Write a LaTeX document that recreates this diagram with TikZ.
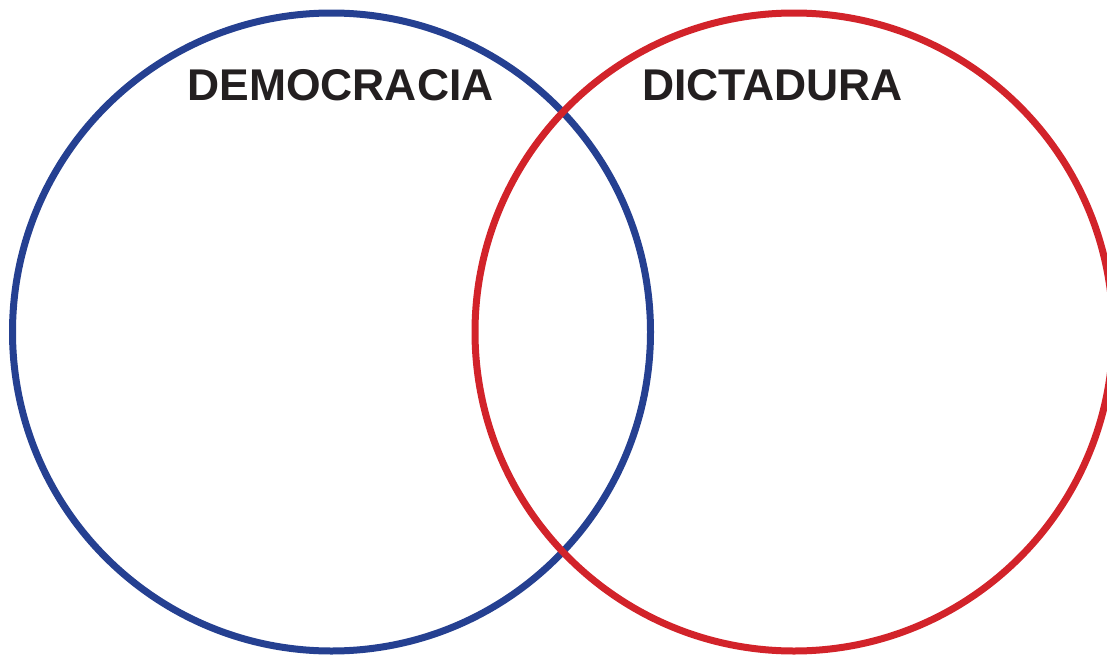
\documentclass[tikz,border=0pt]{standalone}
\usepackage{fontspec}
\setmainfont{Liberation Sans}
\usetikzlibrary{positioning}
\definecolor{demblue}{RGB}{37,64,145}
\definecolor{dicred}{RGB}{210,35,42}
\definecolor{titleink}{RGB}{35,31,32}

\begin{document}
\begin{tikzpicture}[
    set/.style={circle, draw, line width=0.14cm, minimum size=12.76cm, inner sep=0pt},
    title/.style={anchor=base, text=titleink, font=\fontsize{25.3}{30}\selectfont\bfseries}
]
\useasboundingbox (0,0) rectangle (22.14,13.12);
\node[set, demblue] (democracia) at (6.63,6.48) {};
\node[set, dicred] (dictadura) at (15.88,6.48) {};
\node[title] (demlabel) at (6.81,11.12) {DEMOCRACIA};
\node[title] (diclabel) at (15.45,11.12) {DICTADURA};
\end{tikzpicture}
\end{document}
